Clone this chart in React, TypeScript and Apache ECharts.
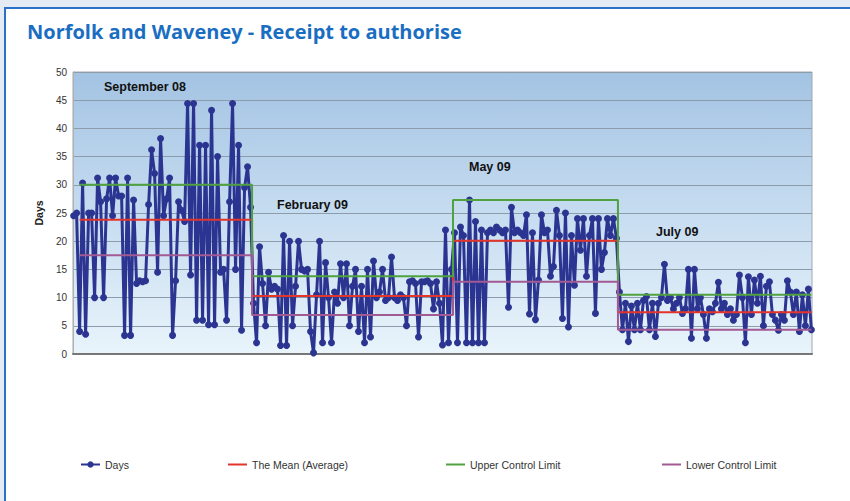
import React, { useEffect, useRef } from "react";
import * as echarts from "echarts";

// Segment labels
const segmentNames = ["September 08", "February 09", "May 09", "July 09"];

// Days values per segment
const sep08 = [
  24.5, 25, 4, 30.3, 3.5, 25, 25, 10, 31.2, 27,
  10, 27.5, 31.2, 24.5, 31.2, 28, 28, 3.3, 31.2, 3.3,
  27.3, 12.5, 13, 12.8, 13, 26.5, 36.2, 32, 14.5, 38.2,
  24.5, 27.5, 31.2, 3.3, 13, 27, 25.5, 23.5, 44.4, 14,
  44.4, 6, 37, 6, 37, 5.2, 43.2, 5.2, 35, 14.5,
  15, 6, 27, 44.4, 15, 37, 4.2, 29.5, 33.2, 26,
];
const feb09 = [
  9, 2, 19, 12.5, 5, 14.5, 11.5, 12, 11.5, 1.5,
  21, 1.5, 20, 5, 12, 20, 15, 14.7, 15, 4,
  0.2, 10.5, 20, 2, 16.2, 10, 2, 11, 9, 16,
  10, 16, 5, 12, 15, 4, 12, 2, 15, 3,
  16.5, 10, 11, 15, 9.5, 10, 17.2, 10, 9.5, 10.5,
  10, 5, 12.8, 13, 12.5, 3, 12.8, 12.8, 13, 12.5,
  8, 12.8, 9, 1.6, 22, 2, 15,
];
const may09 = [
  21.5, 2, 22.5, 21, 2, 27.3, 2, 23.5, 2, 22,
  2, 21.5, 22, 21.5, 22.5, 22, 21.5, 22, 8.3, 26,
  21.5, 22, 21.5, 21, 24.7, 7.1, 21.5, 6.1, 13.1, 24.7,
  21.5, 22, 13.8, 15.5, 25.5, 21, 6.3, 25, 4.8, 21,
  12.2, 24, 18.4, 24, 13.8, 21, 24, 7.2, 24, 15,
  18, 24, 21, 24, 20.5,
];
const jul09 = [
  11, 4.3, 9, 2.2, 8.5, 4.3, 9, 4.3, 9.5, 10.2,
  4.3, 9, 3.1, 9, 10, 15.9, 9.5, 10, 8, 9,
  10, 7.2, 8, 15, 2.8, 15, 8, 10, 7, 2.8,
  8, 7.5, 9, 12.7, 8, 9, 7, 8, 6, 7,
  14, 10, 2, 13.7, 7, 13.1, 9, 13.8, 5, 12,
  12.8, 7, 6, 4.2, 7, 6, 13, 11, 7, 11,
  4, 10.5, 5, 11.5, 4.3,
];

// Control limits per segment
const meanValues = [23.8, 10.3, 20.1, 7.4];
const uclValues = [30, 13.8, 27.3, 10.5];
const lclValues = [17.5, 6.9, 12.8, 4.3];

const yTicks = [0, 5, 10, 15, 20, 25, 30, 35, 40, 45, 50];

export default function App() {
  const ref = useRef<HTMLDivElement>(null);

  useEffect(() => {
    if (!ref.current) return;
    const chart = echarts.init(ref.current, undefined, { renderer: "svg" });

    const segments = [sep08, feb09, may09, jul09];
    const days: number[][] = [];
    const bounds: number[] = [];
    let idx = 0;
    segments.forEach((seg) => {
      seg.forEach((v) => {
        days.push([idx, v]);
        idx++;
      });
      bounds.push(idx - 0.5);
    });
    const N = idx;
    const limitLine = (vals: number[]) => {
      const pts: number[][] = [];
      vals.forEach((v, k) => {
        const start = k === 0 ? 2 : bounds[k - 1];
        const end = k === vals.length - 1 ? N - 1 : bounds[k];
        pts.push([start, v]);
        pts.push([end, v]);
      });
      return pts;
    };

    const legendText = {
      fontFamily: "Liberation Sans Narrow, Liberation Sans, Arial, sans-serif",
      fontSize: 10.5,
      color: "#333",
    };
    const mkLegend = (name: string, left: number, plain: boolean) => ({
      data: plain ? [{ name, icon: "rect" }] : [name],
      left,
      top: 459,
      itemWidth: 19,
      itemHeight: plain ? 2 : 8,
      itemGap: 2,
      textStyle: legendText,
      padding: 0,
    });

    const annStyle = {
      fontFamily: "Liberation Sans, Arial, sans-serif",
      fontSize: 12.5,
      fontWeight: "bold",
      fill: "#111",
    };
    const annPos = [
      [104, 88],
      [277, 206],
      [469, 168],
      [656, 233],
    ];

    chart.setOption({
      animation: false,
      title: {
        text: "Norfolk and Waveney - Receipt to authorise",
        left: 22,
        top: 16,
        textStyle: {
          fontFamily: "Open Sans, Lato, sans-serif",
          fontSize: 20,
          fontWeight: "bold",
          color: "#1a6ec2",
        },
      },
      legend: [
        mkLegend("Days", 80, false),
        mkLegend("The Mean (Average)", 228, true),
        mkLegend("Upper Control Limit", 446, true),
        mkLegend("Lower Control Limit", 662, true),
      ],
      graphic: segmentNames.map((t, i) => ({
        type: "text",
        left: annPos[i][0],
        top: annPos[i][1] - 8,
        z: 100,
        style: { ...annStyle, text: t },
      })),
      grid: {
        left: 73,
        right: 38,
        top: 72,
        bottom: 147,
        show: true,
        borderColor: "#a0a8b0",
        borderWidth: 1,
        backgroundColor: {
          type: "linear",
          x: 0,
          y: 0,
          x2: 0,
          y2: 1,
          colorStops: [
            { offset: 0, color: "#a3c3e3" },
            { offset: 0.5, color: "#c6dcf0" },
            { offset: 1, color: "#e9f4fb" },
          ],
        },
      },
      xAxis: {
        type: "value",
        min: -0.2,
        max: N - 1 + 0.2,
        axisLabel: { show: false },
        axisTick: { show: false },
        splitLine: { show: false },
        axisLine: { show: true, lineStyle: { color: "#777777", width: 2 } },
      },
      yAxis: {
        type: "value",
        min: yTicks[0],
        max: yTicks[yTicks.length - 1],
        interval: 5,
        name: "Days",
        nameLocation: "middle",
        nameGap: 27,
        nameRotate: 90,
        nameTextStyle: {
          fontFamily: "Liberation Sans, Arial, sans-serif",
          fontSize: 10.5,
          fontWeight: "bold",
          color: "#222",
        },
        axisLine: { show: true, lineStyle: { color: "#b0b0b0" } },
        axisTick: { show: false },
        axisLabel: {
          margin: 6,
          fontFamily: "Liberation Sans, Arial, sans-serif",
          fontSize: 10,
          color: "#333",
        },
        splitLine: { show: true, lineStyle: { color: "#8d9caa", width: 1 } },
      },
      series: [
        {
          name: "Days",
          type: "line",
          data: days,
          z: 2,
          symbol: "circle",
          symbolSize: 7,
          color: "#2b3591",
          lineStyle: { color: "#2b3591", width: 3 },
          itemStyle: { color: "#2b3591" },
        },
        {
          name: "The Mean (Average)",
          type: "line",
          data: limitLine(meanValues),
          z: 3,
          symbol: "none",
          color: "#e3352b",
          lineStyle: { color: "#e3352b", width: 2 },
        },
        {
          name: "Upper Control Limit",
          type: "line",
          data: limitLine(uclValues),
          z: 3,
          symbol: "none",
          color: "#4fa23f",
          lineStyle: { color: "#4fa23f", width: 2 },
        },
        {
          name: "Lower Control Limit",
          type: "line",
          data: limitLine(lclValues),
          z: 3,
          symbol: "none",
          color: "#a25a92",
          lineStyle: { color: "#a25a92", width: 2 },
        },
      ],
    });

    return () => chart.dispose();
  }, []);

  return (
    <div
      style={{
        position: "fixed",
        left: 0,
        top: 0,
        width: 850,
        height: 501,
        background: "#e4ebf4",
        overflow: "hidden",
      }}
    >
      <div
        style={{
          position: "absolute",
          left: 4,
          top: 7,
          width: 860,
          height: 510,
          background: "#ffffff",
          borderLeft: "2px solid #2a72c8",
          borderTop: "2px solid #2a72c8",
        }}
      />
      <div
        ref={ref}
        style={{ position: "absolute", left: 0, top: 0, width: 850, height: 501 }}
      />
    </div>
  );
}
